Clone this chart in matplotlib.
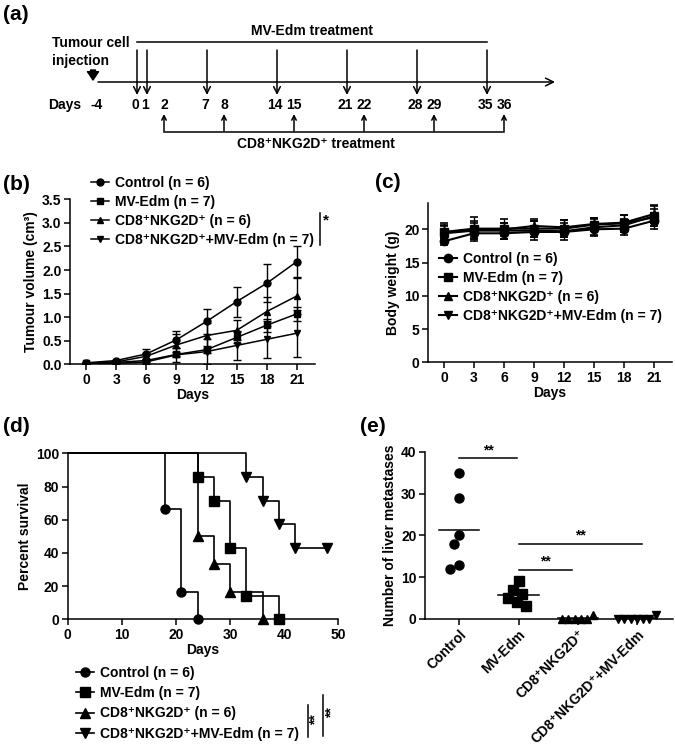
import numpy as np
import matplotlib
matplotlib.use('Agg')
import matplotlib.pyplot as plt
from matplotlib.lines import Line2D
from matplotlib.transforms import ScaledTranslation
from matplotlib.ticker import FormatStrFormatter

# ---------------- data ----------------
group_names = ['Control', 'MV-Edm', 'CD8⁺NKG2D⁺', 'CD8⁺NKG2D⁺+MV-Edm']
group_n = [6, 7, 6, 7]
group_markers = ['o', 's', '^', 'v']

# (a) treatment schedule
injection_day = -4
mv_edm_days = [0, 1, 7, 14, 21, 28, 35]
cd8_days = [2, 8, 15, 22, 29, 36]

# (b) tumour volume (cm^3), mean and error
days = [0, 3, 6, 9, 12, 15, 18, 21]
vol_control = [0.03, 0.08, 0.22, 0.52, 0.91, 1.33, 1.72, 2.18]
vol_mv = [0.03, 0.04, 0.08, 0.21, 0.31, 0.57, 0.83, 1.07]
vol_cd8 = [0.02, 0.05, 0.17, 0.41, 0.61, 0.72, 1.12, 1.45]
vol_combo = [0.02, 0.02, 0.05, 0.20, 0.27, 0.40, 0.53, 0.66]
vol_err_control = [0.01, 0.02, 0.10, 0.18, 0.27, 0.32, 0.40, 0.32]
vol_err_mv = [0.01, 0.02, 0.04, 0.06, 0.07, 0.12, 0.14, 0.15]
vol_err_cd8 = [0.01, 0.02, 0.08, 0.24, 0.26, 0.21, 0.30, 0.38]
vol_err_combo = [0.01, 0.02, 0.05, 0.15, 0.27, 0.30, 0.39, 0.50]

# (c) body weight (g)
bw_control = [18.2, 19.4, 19.4, 19.6, 19.6, 20.0, 20.1, 21.3]
bw_mv = [19.6, 20.1, 20.1, 20.1, 20.1, 20.7, 20.9, 21.8]
bw_cd8 = [19.5, 20.0, 20.0, 20.5, 20.3, 20.8, 21.0, 22.3]
bw_combo = [19.4, 19.8, 19.8, 19.8, 19.7, 20.3, 20.6, 22.0]
bw_err_control = [0.6, 0.8, 0.8, 0.8, 0.8, 0.9, 1.0, 1.2]
bw_err_mv = [1.4, 1.8, 1.5, 1.2, 1.3, 1.0, 1.3, 1.3]
bw_err_cd8 = [1.0, 1.2, 1.0, 1.1, 1.1, 0.9, 1.2, 1.35]
bw_err_combo = [1.2, 1.2, 1.2, 1.4, 1.3, 1.3, 1.0, 1.5]

# (d) survival: days of death and censored days per group
death_control = [18, 18, 21, 21, 21, 24]
death_mv = [24, 27, 30, 30, 33, 33, 39]
death_cd8 = [24, 24, 24, 27, 30, 36]
death_combo = [33, 36, 39, 42]
censor_control = []
censor_mv = []
censor_cd8 = []
censor_combo = [48, 48, 48]

# (e) liver metastases counts
met_control = [35, 29, 20, 18, 13, 12]
met_mv = [9, 7, 6, 5, 4, 3]
met_cd8 = [0, 0, 0, 0, 0, 1]
met_combo = [0, 0, 0, 0, 0, 0, 1]
met_tick_labels = ['Control', 'MV-Edm', 'CD8⁺NKG2D⁺', 'CD8⁺NKG2D⁺+MV-Edm']

# ---------------- style ----------------
plt.rcParams.update({
    'font.family': ['Liberation Sans', 'DejaVu Sans'],
    'font.weight': 'bold',
    'font.size': 10,
    'axes.labelweight': 'bold',
    'axes.labelsize': 10,
    'axes.linewidth': 1.1,
    'xtick.major.width': 1.1, 'ytick.major.width': 1.1,
    'xtick.major.size': 4, 'ytick.major.size': 4,
    'xtick.labelsize': 10, 'ytick.labelsize': 10,
    'xtick.major.pad': 2, 'ytick.major.pad': 2,
})

W, H = 675, 749
fig = plt.figure(figsize=(W / 100, H / 100), dpi=100)


def add_ax(l, t, r, b):
    return fig.add_axes([l / W, 1 - b / H, (r - l) / W, (b - t) / H])


def fxy(x, y):
    return (x / W, 1 - y / H)


def ftext(x, y, s, **kw):
    fig.text(x / W, 1 - y / H, s, **kw)


def fline(xs, ys, lw=1.1):
    fig.add_artist(Line2D([x / W for x in xs], [1 - y / H for y in ys], color='k', lw=lw))


def style(ax):
    for s in ['top', 'right']:
        ax.spines[s].set_visible(False)
    ax.tick_params(direction='out', colors='k')


def legend_at(x, y, ms, lw, spacing=0.35):
    handles = [Line2D([], [], color='k', marker=m, ms=ms, lw=lw) for m in group_markers]
    labels = [f'{g} (n = {n})' for g, n in zip(group_names, group_n)]
    fig.legend(handles, labels, loc='upper left', bbox_to_anchor=fxy(x, y), frameon=False,
               fontsize=10, handlelength=1.3, handletextpad=0.4, labelspacing=spacing,
               borderpad=0, borderaxespad=0)


# ---------------- (a) ----------------
ax_a = add_ax(0, 0, W, 160)
ax_a.set_axis_off()
ax_a.set_xlim(-13.7, 53.8)
ax_a.set_ylim(160, 0)
t_mv = ax_a.transData + ScaledTranslation(-2 / 100, 0, fig.dpi_scale_trans)
t_cd8 = ax_a.transData + ScaledTranslation(7 / 100, 0, fig.dpi_scale_trans)

ftext(3, 15, '(a)', fontsize=15, va='center', ha='left')
ax_a.text((mv_edm_days[0] + mv_edm_days[-1]) / 2, 31, 'MV-Edm treatment', ha='center', va='center')
ax_a.plot([mv_edm_days[0], mv_edm_days[-1]], [42, 42], color='k', lw=1.1)
ftext(52, 43, 'Tumour cell', ha='left', va='center')
ftext(52, 61, 'injection', ha='left', va='center')
ax_a.annotate('', xy=(injection_day - 0.4, 80), xytext=(injection_day - 0.4, 70),
              arrowprops=dict(arrowstyle='simple,head_length=0.6,head_width=0.8,tail_width=0.35',
                              fc='k', ec='k', mutation_scale=10, shrinkA=0, shrinkB=0))
ax_a.annotate('', xy=(41.8, 82), xytext=(injection_day + 0.1, 82),
              arrowprops=dict(arrowstyle='->', color='k', lw=1.1, mutation_scale=14, shrinkA=0, shrinkB=0))
for d in mv_edm_days:
    ax_a.annotate('', xy=(d, 95), xytext=(d, 50),
                  arrowprops=dict(arrowstyle='->', color='k', lw=1.1, mutation_scale=12, shrinkA=0, shrinkB=0))
ftext(48, 105, 'Days', ha='left', va='center')
ax_a.text(injection_day, 105, str(injection_day), ha='center', va='center')
for d in mv_edm_days:
    ax_a.text(d, 105, str(d), ha='center', va='center', transform=t_mv)
for d in cd8_days:
    ax_a.text(d, 105, str(d), ha='center', va='center', transform=t_cd8)
    ax_a.annotate('', xy=(d, 114), xytext=(d, 131), xycoords=t_cd8, textcoords=t_cd8,
                  arrowprops=dict(arrowstyle='->', color='k', lw=1.1, mutation_scale=8, shrinkA=0, shrinkB=0))
ax_a.plot([cd8_days[0], cd8_days[-1]], [131.5, 131.5], color='k', lw=1.1, transform=t_cd8)
ftext(316, 144, 'CD8⁺NKG2D⁺ treatment', ha='center', va='center')

# ---------------- (b) ----------------
ax_b = add_ax(70, 199.3, 315, 364.3)
style(ax_b)
for (v, e), m in zip([(vol_control, vol_err_control), (vol_mv, vol_err_mv),
                      (vol_cd8, vol_err_cd8), (vol_combo, vol_err_combo)], group_markers):
    ax_b.errorbar(days, v, yerr=e, color='k', marker=m, ms=5, lw=1.1, capsize=3,
                  elinewidth=1, capthick=1)
ax_b.set_xlim(-1.6, 22.8)
ax_b.set_ylim(0, 3.5)
ax_b.set_xticks(days)
ax_b.set_yticks(np.arange(0, 3.51, 0.5))
ax_b.yaxis.set_major_formatter(FormatStrFormatter('%.1f'))
ax_b.set_xlabel('Days', labelpad=1)
ax_b.set_ylabel('Tumour volume (cm³)', labelpad=3)
ftext(3, 185, '(b)', fontsize=15, va='center', ha='left')
legend_at(91, 176, 5, 1.1)
fline([320, 320], [213, 245])
ftext(323, 220, '*', fontsize=11, ha='left', va='center')

# ---------------- (c) ----------------
ax_c = add_ax(428, 202.7, 672, 362.3)
style(ax_c)
for (v, e), m in zip([(bw_control, bw_err_control), (bw_mv, bw_err_mv),
                      (bw_cd8, bw_err_cd8), (bw_combo, bw_err_combo)], group_markers):
    ax_c.errorbar(days, v, yerr=e, color='k', marker=m, ms=6, lw=1.5, capsize=3,
                  elinewidth=1, capthick=1.2)
ax_c.set_xlim(-1.6, 22.8)
ax_c.set_ylim(0, 24)
ax_c.set_xticks(days)
ax_c.set_yticks([0, 5, 10, 15, 20])
ax_c.set_xlabel('Days', labelpad=1)
ax_c.set_ylabel('Body weight (g)', labelpad=3)
ftext(375, 183, '(c)', fontsize=15, va='center', ha='left')
legend_at(439, 252, 6, 1.5)

# ---------------- (d) ----------------
def kaplan_meier(deaths, censored):
    allt = list(deaths) + list(censored)
    s = 100.0
    xs, ys = [0], [100.0]
    for t in sorted(set(deaths)):
        d = sum(1 for x in deaths if x == t)
        n_risk = sum(1 for x in allt if x >= t)
        s *= (1 - d / n_risk)
        xs.append(t)
        ys.append(s)
    if censored and max(censored) > xs[-1]:
        xs.append(max(censored))
        ys.append(s)
    return xs, ys


ax_d = add_ax(67.7, 453.3, 338.3, 619.3)
style(ax_d)
for (dth, cen), m in zip([(death_control, censor_control), (death_mv, censor_mv),
                          (death_cd8, censor_cd8), (death_combo, censor_combo)], group_markers):
    xs, ys = kaplan_meier(dth, cen)
    ax_d.step(xs, ys, where='post', color='k', lw=1.2, clip_on=False)
    ax_d.plot(xs[1:], ys[1:], ls='none', marker=m, ms=7 if m in '^v' else 6.5,
              color='k', clip_on=False)
ax_d.set_xlim(0, 50)
ax_d.set_ylim(0, 100)
ax_d.set_xticks([0, 10, 20, 30, 40, 50])
ax_d.set_yticks([0, 20, 40, 60, 80, 100])
ax_d.set_xlabel('Days', labelpad=1)
ax_d.set_ylabel('Percent survival', labelpad=3)
ftext(3, 427, '(d)', fontsize=15, va='center', ha='left')
legend_at(76, 666, 6.5, 1.2, spacing=0.45)
fline([308, 308], [705, 737])
ftext(315, 720, '**', fontsize=10, rotation=90, ha='center', va='center')
fline([323, 323], [695, 736])
ftext(331, 713, '**', fontsize=10, rotation=90, ha='center', va='center')

# ---------------- (e) ----------------
ax_e = add_ax(425, 451.7, 673, 619)
style(ax_e)
ax_e.set_xlim(-0.58, 3.61)
ax_e.set_ylim(0, 40)
px_per_cat = (673 - 425) / (3.61 + 0.58)
px_per_unit = (619 - 451.7) / 40


def swarm(values, d_px):
    """Greedy beeswarm (largest first, ties to the left)."""
    vals = np.asarray(values, float)
    order = np.argsort(-vals, kind='stable')
    placed = []
    xs = np.zeros(len(vals))
    for i in order:
        y = vals[i] * px_per_unit
        cands = [0.0]
        for px, py in placed:
            dy = abs(py - y)
            if dy < d_px:
                dx = np.sqrt(d_px ** 2 - dy ** 2)
                cands += [px - dx, px + dx]
        cands = sorted(cands, key=lambda c: (abs(c), c))
        for c in cands:
            if all((c - px) ** 2 + (y - py) ** 2 >= d_px ** 2 - 1e-6 for px, py in placed):
                xs[i] = c
                break
        placed.append((xs[i], y))
    return xs / px_per_cat


def row(values, d_px):
    """Points of a near-constant group laid in one centred row, ascending left to right."""
    vals = np.asarray(values, float)
    order = np.argsort(vals, kind='stable')
    xs = np.zeros(len(vals))
    pos = (np.arange(len(vals)) - (len(vals) - 1) / 2) * d_px
    xs[order] = pos
    return xs / px_per_cat


for k, (vals, m) in enumerate(zip([met_control, met_mv, met_cd8, met_combo], group_markers)):
    tri = m in '^v'
    xo = row(vals, 6.3) if tri else swarm(vals, 10.0)
    ax_e.plot(k + xo, vals, ls='none', marker=m, ms=5.5 if tri else 6.5, color='k', clip_on=False)
    mu = np.mean(vals)
    ax_e.plot([k - 0.34, k + 0.34], [mu, mu], color='k', lw=1.1, clip_on=False)

for (x0, x1, y) in [(0, 0.97, 38.4), (1, 3.09, 17.9), (1, 1.91, 11.7)]:
    ax_e.plot([x0, x1], [y, y], color='k', lw=1.1)
    ax_e.text((x0 + x1) / 2, y + 0.3, '**', ha='center', va='bottom', fontsize=10)

ax_e.set_xticks(range(4))
ax_e.set_xticklabels(met_tick_labels, rotation=45, ha='right', rotation_mode='anchor')
ax_e.set_yticks([0, 10, 20, 30, 40])
ax_e.set_ylabel('Number of liver metastases', labelpad=3)
ftext(360, 427, '(e)', fontsize=15, va='center', ha='left')

fig.savefig('out.png', dpi=100)
